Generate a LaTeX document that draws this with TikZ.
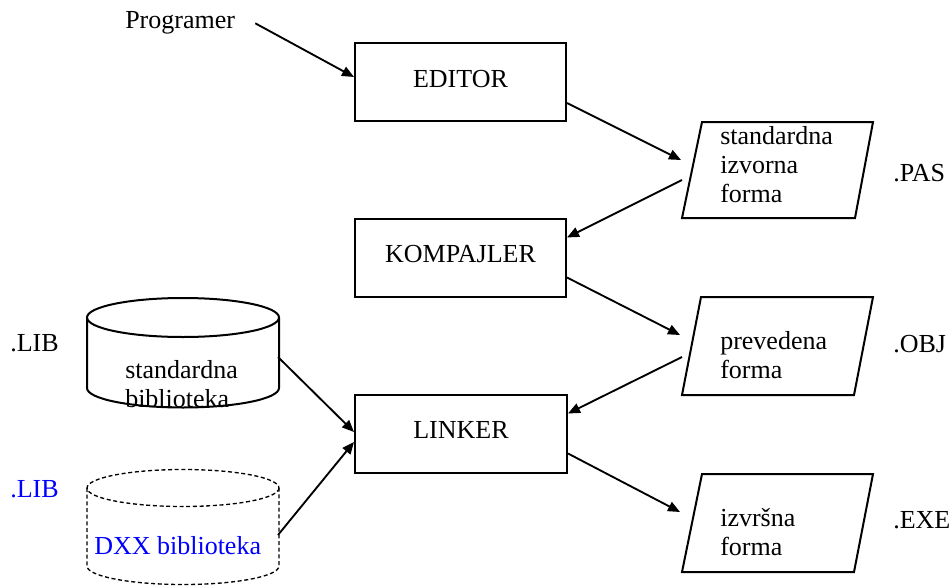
\documentclass[tikz,border=0pt]{standalone}
\usepackage{fontspec}
\setmainfont{Liberation Serif}
\usetikzlibrary{arrows.meta,calc}
\definecolor{libblue}{RGB}{0,0,255}
\begin{document}
\begin{tikzpicture}[x=0.75pt,y=-0.75pt,
  font=\fontsize{19.5pt}{21.4pt}\selectfont,
  procbox/.style={draw, line width=1.5pt, minimum width=158.25pt, minimum height=58.5pt,
    inner sep=0pt, text height=14pt, text depth=6.4pt},
  lbl/.style={anchor=base west, inner sep=0pt},
  flow/.style={line width=1.4pt, -{Triangle[length=9pt,width=7.5pt]}},
  outline/.style={line width=1.5pt, line join=miter},
  dashedline/.style={line width=1pt, dash pattern=on 3pt off 2pt},
]
\useasboundingbox (0,0) rectangle (952,585);

% processing steps
\node[procbox] (editor)    at (460.5,82)   {EDITOR};
\node[procbox] (kompajler) at (460.5,257.5) {KOMPAJLER};
\node[procbox, minimum width=159pt] (linker) at (461,433.5) {LINKER};

\node[lbl] (prog) at (125,29) {Programer};

% data forms (parallelograms)
\draw[outline] (702,122) -- (873,122) -- (855,218) -- (682,218) -- cycle;
\draw[outline] (701,297) -- (873,297) -- (854,395) -- (682,395) -- cycle;
\draw[outline] (702,474) -- (873,474) -- (854,572) -- (682,572) -- cycle;

% multi-line labels are placed by the baseline of their last line
\node[lbl, align=left] (pastext) at (720,202) {standardna\\izvorna\\forma};
\node[lbl, align=left] (objtext) at (720,378) {prevedena\\forma};
\node[lbl, align=left] (exetext) at (720,555) {izvršna\\forma};

\node[lbl] (pas) at (893,181) {.PAS};
\node[lbl] (obj) at (893,352) {.OBJ};
\node[lbl] (exe) at (893,528) {.EXE};

% libraries (cylinders)
\draw[outline] (87,317.5) -- (87,388) arc[start angle=180, end angle=0, x radius=96, y radius=19.5] -- (279,317.5);
\draw[outline] (183,317.5) ellipse [x radius=96, y radius=19.5];
\node[lbl, align=left] (stdlib) at (125,407) {standardna\\biblioteka};
\node[lbl] (lib1) at (10,351) {.LIB};

\draw[dashedline] (87,488) -- (87,566) arc[start angle=180, end angle=0, x radius=96, y radius=18.5] -- (279,488);
\draw[dashedline] (183,488) ellipse [x radius=96, y radius=18.5];
\node[lbl, text=libblue] (dxxlib) at (94,554) {DXX biblioteka};
\node[lbl, text=libblue] (lib2) at (10,497) {.LIB};

% connector end points at the data forms and libraries
\coordinate (pasIn)  at (681,160);
\coordinate (pasOut) at (682,180);
\coordinate (objIn)  at (680,335);
\coordinate (objOut) at (682,357);
\coordinate (exeIn)  at (680,512);
\coordinate (lib1Out) at (278,357);
\coordinate (lib2Out) at (278,535);

% data flow
\draw[flow] ([xshift=15pt]prog.east) -- ($(editor.west)+(0,-5)$);
\draw[flow] ($(editor.east)+(0,21)$) -- (pasIn);
\draw[flow] (pasOut) -- ($(kompajler.east)+(0,-20)$);
\draw[flow] ($(kompajler.east)+(0,20)$) -- (objIn);
\draw[flow] (objOut) -- ($(linker.east)+(0,-20)$);
\draw[flow] ($(linker.east)+(0,20)$) -- (exeIn);
\draw[flow] (lib1Out) -- ($(linker.west)+(0,-1.5)$);
\draw[flow] (lib2Out) -- ($(linker.west)+(0,8.5)$);
\end{tikzpicture}
\end{document}
